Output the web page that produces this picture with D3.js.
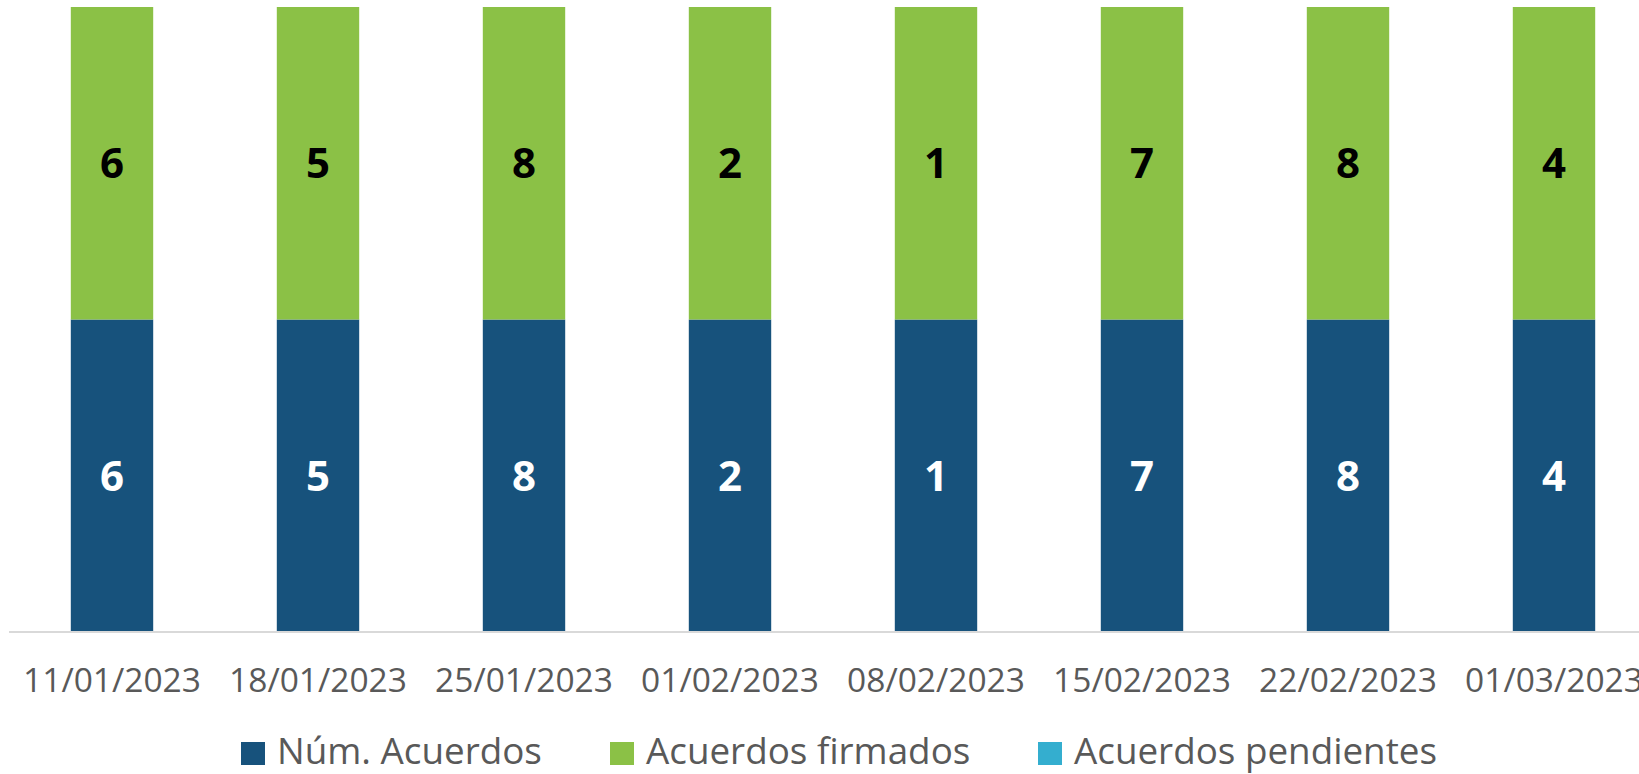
<!DOCTYPE html>
<html>
<head>
<meta charset="utf-8">
<script src="https://cdn.jsdelivr.net/npm/d3@7"></script>
<style>
  html, body { margin: 0; padding: 0; background: #fff; overflow: hidden; }
  svg { display: block; font-family: "Open Sans", sans-serif; }
</style>
</head>
<body>
<svg id="chart"></svg>
<script>
// datos
const fechas = ["11/01/2023", "18/01/2023", "25/01/2023", "01/02/2023", "08/02/2023", "15/02/2023", "22/02/2023", "01/03/2023"]
const numAcuerdos = [6, 5, 8, 2, 1, 7, 8, 4]
const firmados = [6, 5, 8, 2, 1, 7, 8, 4]
const pendientes = [0, 0, 0, 0, 0, 0, 0, 0]

const series = ["Núm. Acuerdos", "Acuerdos firmados", "Acuerdos pendientes"]
const colores = ["#17527c", "#8bc146", "#34aecf"]
const colorTexto = ["#ffffff", "#000000", "#000000"]

const width = 1639
const height = 774

const rows = fechas.map((f, i) => ({
  fecha: f,
  "Núm. Acuerdos": numAcuerdos[i],
  "Acuerdos firmados": firmados[i],
  "Acuerdos pendientes": pendientes[i]
}))

const stacked = d3.stack()
  .keys(series)
  .offset(d3.stackOffsetExpand)(rows)

const x = d3.scaleBand()
  .domain(fechas)
  .range([9, 1657])
  .paddingInner(0.6)
  .paddingOuter(0.3)

const y = d3.scaleLinear()
  .domain([0, 1])
  .range([632, 7])

const svg = d3.select("#chart")
  .attr("width", width)
  .attr("height", height)

const groups = svg.append("g")
  .selectAll("g")
  .data(stacked)
  .join("g")
  .attr("fill", (d, i) => colores[i])

groups.selectAll("rect")
  .data(d => d)
  .join("rect")
  .attr("x", d => x(d.data.fecha))
  .attr("width", x.bandwidth())
  .attr("y", d => y(d[1]))
  .attr("height", d => y(d[0]) - y(d[1]))

// etiquetas de datos
svg.append("g")
  .selectAll("g")
  .data(stacked)
  .join("g")
  .attr("fill", (d, i) => colorTexto[i])
  .selectAll("text")
  .data(d => d.filter(p => p.data[d.key] > 0).map(p => ({p: p, v: p.data[d.key]})))
  .join("text")
  .attr("x", d => x(d.p.data.fecha) + x.bandwidth() / 2)
  .attr("y", d => (y(d.p[0]) + y(d.p[1])) / 2)
  .attr("dy", "0.36em")
  .attr("text-anchor", "middle")
  .attr("font-size", 42)
  .attr("font-weight", "bold")
  .text(d => d.v)

// eje x
const xAxis = svg.append("g")
  .attr("transform", "translate(0,632)")
  .call(d3.axisBottom(x).tickSize(0).tickPadding(0))

xAxis.select(".domain")
  .attr("stroke", "#d9d9d9")
  .attr("stroke-width", 2)
  .attr("d", "M9,0H1657")

xAxis.selectAll("text")
  .attr("y", 60)
  .attr("dy", 0)
  .attr("fill", "#595959")
  .attr("font-size", 33.5)
  .attr("font-family", "Open Sans, sans-serif")

// leyenda
const legendX = [241, 610, 1038]
const legend = svg.append("g")
  .selectAll("g")
  .data(series)
  .join("g")
  .attr("transform", (d, i) => `translate(${legendX[i]},742)`)

legend.append("rect")
  .attr("width", 24)
  .attr("height", 23)
  .attr("fill", (d, i) => colores[i])

legend.append("text")
  .attr("x", 36)
  .attr("y", 22)
  .attr("fill", "#595959")
  .attr("font-size", 36.8)
  .text(d => d)
</script>
</body>
</html>
